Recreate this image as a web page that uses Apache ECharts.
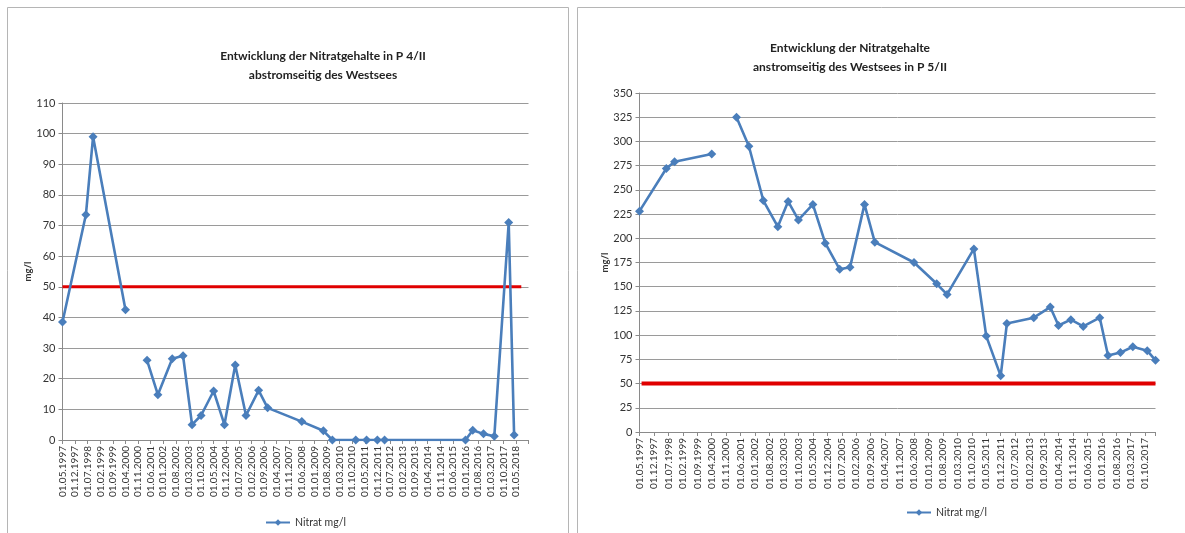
<!DOCTYPE html>
<html>
<head>
<meta charset="utf-8">
<script src="https://cdn.jsdelivr.net/npm/echarts@6/dist/echarts.min.js"></script>
<style>html,body{margin:0;padding:0;background:#fff;}#c{width:1185px;height:533px;}</style>
</head>
<body>
<div id="c"></div>
<script>
// ---- Data: P 4/II (abstromseitig) ----
const datesP4 = ['01.05.1997','01.06.1998','01.10.1998','01.04.2000',null,'01.04.2001','01.10.2001','01.06.2002','01.12.2002',
  '01.05.2003','01.10.2003','01.05.2004','01.11.2004','01.05.2005','01.11.2005','01.06.2006','01.11.2006',
  '01.06.2008','01.06.2009','01.11.2009','01.12.2010','01.06.2011','01.12.2011','01.04.2012','01.01.2016',
  '01.05.2016','01.11.2016','01.05.2017','01.01.2018','01.04.2018'];
const valuesP4 = [38.5,73.5,99,42.5,null,26,14.8,26.5,27.5,
  5,8,16,5,24.5,8,16.2,10.5,
  6,3,0,0,0,0,0,0,
  3.2,2,1.2,71,1.6];
// ---- Data: P 5/II (anstromseitig) ----
const datesP5 = ['01.05.1997','01.06.1998','01.10.1998','01.04.2000',null,'01.04.2001','01.10.2001','01.05.2002','01.12.2002',
  '01.05.2003','01.10.2003','01.05.2004','01.11.2004','01.06.2005','01.11.2005','01.06.2006','01.11.2006',
  '01.06.2008','01.05.2009','01.10.2009','01.11.2010','01.05.2011','01.12.2011','01.03.2012','01.04.2013',
  '01.12.2013','01.04.2014','01.10.2014','01.04.2015','01.12.2015','01.04.2016','01.10.2016','01.04.2017',
  '01.11.2017','01.03.2018'];
const valuesP5 = [228,272,279,287,null,325,295,239,212,
  238,219,235,195,168,170,235,196,
  175,153,142,189,99,58,112,118,
  129,110,116,109,118,79,82,88,
  84,74];
// Grenzwert 50 mg/l
const limitDatesP4 = ['01.05.1997','01.08.2018'];
const limitDatesP5 = ['01.06.1997','01.03.2018'];
const limitValue = 50;
const seriesName = 'Nitrat mg/l';
const title1 = 'Entwicklung der Nitratgehalte in P 4/II\nabstromseitig des Westsees';
const title2 = 'Entwicklung der Nitratgehalte\nanstromseitig des Westsees in P 5/II';

// months since 01.05.1997
function toM(s){ const p=s.split('.'); return (+p[2]-1997)*12 + (+p[1]-5) + (+p[0]-1)/30; }
function pairs(ds, vs){ return ds.map((d,i)=> d===null ? ['-','-'] : [toM(d), vs[i]]); }
function fmt(v){ const mm=((4+v)%12)+1; const yy=1997+Math.floor((4+v)/12); return '01.'+(mm<10?'0':'')+mm+'.'+yy; }

const FONT = 'Lato, "Open Sans", sans-serif';
const blue = '#4A7EBB';
const red = '#E00000';
const gridC = '#9a9a9a';

function xAxis(gi, max, maxLabel){
  return {type:'value', gridIndex:gi, min:0, max:max, interval:7,
    axisLine:{show:true, lineStyle:{color:'#8a8a8a'}},
    axisTick:{show:true, length:4, lineStyle:{color:'#8a8a8a'}},
    splitLine:{show:false},
    axisLabel:{rotate:90, fontSize:10, color:'#333', fontFamily:FONT, margin:6, hideOverlap:false,
      showMaxLabel:true, formatter:v=> v>maxLabel ? '' : fmt(v)}};
}
function yAxis(gi, max, interval, gap){
  return {type:'value', gridIndex:gi, min:0, max:max, interval:interval,
    name:'mg/l', nameLocation:'middle', nameGap:gap, nameRotate:90,
    nameTextStyle:{fontSize:9.5, fontWeight:'bold', color:'#333', fontFamily:FONT},
    axisLine:{show:true, lineStyle:{color:'#8a8a8a'}},
    axisTick:{show:true, length:4, lineStyle:{color:'#8a8a8a'}},
    splitLine:{show:true, lineStyle:{color:gridC, width:1}},
    axisLabel:{fontSize:11, color:'#333', fontFamily:FONT, margin:7}};
}

const chart = echarts.init(document.getElementById('c'), null, {renderer:'canvas'});
chart.setOption({
  animation:false,
  backgroundColor:'#fff',
  graphic:[
    {type:'rect', shape:{x:7.5, y:7.5, width:561, height:560}, style:{fill:'none', stroke:'#b5b5b5', lineWidth:1}, silent:true, z:-10},
    {type:'rect', shape:{x:577.5, y:7.5, width:640, height:560}, style:{fill:'none', stroke:'#b5b5b5', lineWidth:1}, silent:true, z:-10}
  ],
  title:[
    {text:title1, left:318, top:42, textAlign:'center',
      textStyle:{fontSize:12, fontWeight:'bold', color:'#222', fontFamily:FONT, lineHeight:19}},
    {text:title2, left:845, top:34, textAlign:'center',
      textStyle:{fontSize:12, fontWeight:'bold', color:'#222', fontFamily:FONT, lineHeight:19}}
  ],
  legend:[
    {data:[seriesName], left:260, top:512, itemWidth:24, itemHeight:8, itemGap:4,
      textStyle:{fontSize:10.5, color:'#333', fontFamily:FONT}},
    {data:[seriesName], left:901, top:502, itemWidth:24, itemHeight:8, itemGap:4,
      textStyle:{fontSize:10.5, color:'#333', fontFamily:FONT}}
  ],
  grid:[
    {left:62.5, top:103, width:466, height:337, containLabel:false},
    {left:639.5, top:93, width:516, height:339, containLabel:false}
  ],
  xAxis:[xAxis(0, 259, 252), xAxis(1, 250, 245)],
  yAxis:[yAxis(0, 110, 10, 26), yAxis(1, 350, 25, 30)],
  series:[
    {name:'Grenzwert', type:'line', xAxisIndex:0, yAxisIndex:0, data:limitDatesP4.map(d=>[toM(d), limitValue]),
      showSymbol:false, symbol:'none', lineStyle:{color:red, width:3}, z:2, silent:true},
    {name:seriesName, type:'line', xAxisIndex:0, yAxisIndex:0, data:pairs(datesP4, valuesP4), connectNulls:false,
      symbol:'diamond', symbolSize:9, itemStyle:{color:blue}, lineStyle:{color:blue, width:2.6}, z:3},
    {name:'Grenzwert', type:'line', xAxisIndex:1, yAxisIndex:1, data:limitDatesP5.map(d=>[toM(d), limitValue]),
      showSymbol:false, symbol:'none', lineStyle:{color:red, width:4}, z:2, silent:true},
    {name:seriesName, type:'line', xAxisIndex:1, yAxisIndex:1, data:pairs(datesP5, valuesP5), connectNulls:false,
      symbol:'diamond', symbolSize:9, itemStyle:{color:blue}, lineStyle:{color:blue, width:2.6}, z:3}
  ]
});
</script>
</body>
</html>
